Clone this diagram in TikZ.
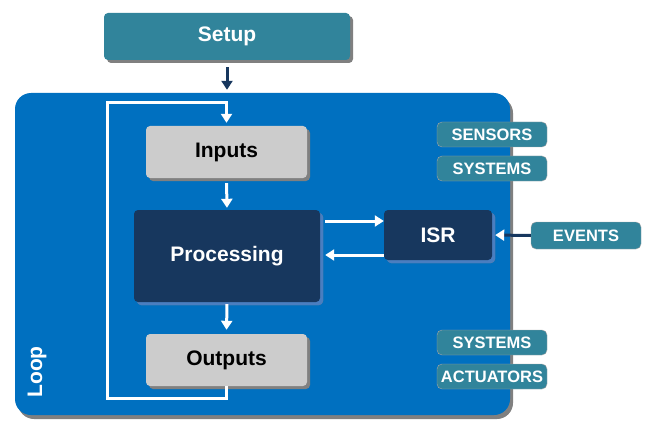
\documentclass[tikz,border=0pt]{standalone}
\usepackage{fontspec}
\setmainfont{Liberation Sans}
\usetikzlibrary{arrows.meta,shadows,calc}

\definecolor{loopblue}{HTML}{0070C0}
\definecolor{navy}{HTML}{17375E}
\definecolor{tealbox}{HTML}{31849B}
\definecolor{greybox}{HTML}{CCCCCC}
\definecolor{edgeblue}{HTML}{4A7EC0}

\begin{document}
\begin{tikzpicture}[x=1pt,y=-1pt,font=\bfseries,
  shade/.style={drop shadow={shadow xshift=3pt,shadow yshift=-3pt,fill=gray,opacity=1}},
  tag/.style={fill=tealbox,draw=gray!70,rounded corners=5pt,text=white,minimum width=110pt,minimum height=25pt,inner sep=0pt,font=\bfseries\fontsize{16.5}{18}\selectfont},
  block/.style={rounded corners=4pt,shade,inner sep=0pt,font=\bfseries\fontsize{21}{24}\selectfont},
  flow/.style={-{Triangle[width=11pt,length=9pt]},white,line width=3pt}]
\useasboundingbox (0,0) rectangle (648,433);
\node[fill=loopblue,rounded corners=16pt,minimum width=495pt,minimum height=322pt,
  drop shadow={shadow xshift=3pt,shadow yshift=-4pt,fill=gray,opacity=1}] (loop) at (262.5,254) {};
\node[text=white,rotate=90,font=\bfseries\fontsize{21}{24}\selectfont] (looplabel) at (37,372) {Loop};
\node[block,fill=tealbox,text=white,minimum width=246pt,minimum height=47pt] (setup) at (227,36.5) {Setup};
\node[block,fill=greybox,minimum width=161pt,minimum height=52pt] (inputs) at (226.5,152) {Inputs};
\node[block,fill=navy,text=white,minimum width=186pt,minimum height=92pt,
  drop shadow={shadow xshift=3pt,shadow yshift=-3pt,fill=edgeblue,opacity=1}] (processing) at (227,256) {Processing};
\node[block,fill=greybox,minimum width=161pt,minimum height=52pt] (outputs) at (226.5,360) {Outputs};
\node[block,fill=navy,text=white,minimum width=108pt,minimum height=50pt,
  drop shadow={shadow xshift=3pt,shadow yshift=-3pt,fill=edgeblue,opacity=1}] (isr) at (438,235) {ISR};
\node[tag,minimum height=27pt] (events) at (586,235.5) {EVENTS};
\node[tag] (sensors) at (492,134.5) {SENSORS};
\node[tag] (systemsin) at (492,168.5) {SYSTEMS};
\node[tag] (systemsout) at (492,342.5) {SYSTEMS};
\node[tag] (actuators) at (492,376.5) {ACTUATORS};
% connectors
\coordinate (bend) at (107,103);
\draw[flow,navy,shorten <=7pt,shorten >=3pt] (setup.south) -- (setup.south|-loop.north);
\draw[flow,shorten >=3pt] (outputs.south) -- ++(0,12) -| (bend) -| (inputs.north);
\draw[flow,shorten <=5pt,shorten >=2pt] (inputs.south) -- (processing.north);
\draw[flow,shorten <=2pt,shorten >=4pt] (processing.south) -- (outputs.north);
\draw[flow,shorten <=5pt] ([yshift=14pt]isr.west-|processing.east) -- ([yshift=14pt]isr.west);
\draw[flow,shorten >=5pt] ([yshift=-20pt]isr.west) -- ([yshift=-20pt]isr.west-|processing.east);
\draw[-{Triangle[width=11pt,length=9pt,color=white]},navy,line width=3pt,shorten >=3pt] (events.west) -- (isr.east);
\end{tikzpicture}
\end{document}
